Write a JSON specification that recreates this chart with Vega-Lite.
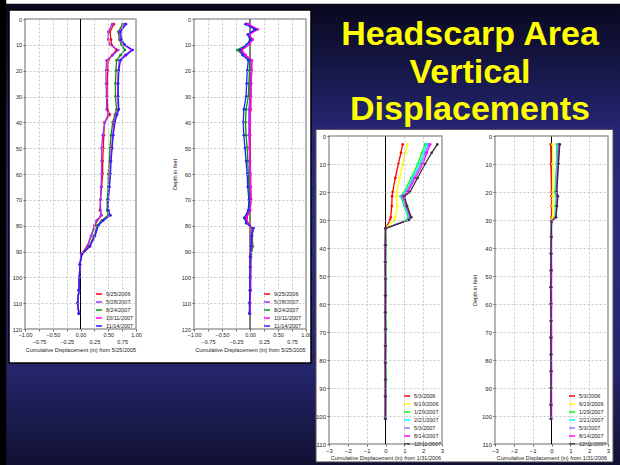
{
"$schema": "https://vega.github.io/schema/vega-lite/v6.json",
"width": 620, "height": 465,
"autosize": {"type": "none"},
"padding": 0,
"background": "#ffffff",
"title": {"text": ["Headscarp Area", "Vertical", " Displacements"], "orient": "top", "anchor": "middle", "frame": "group", "offset": 0, "dx": 160, "dy": 127, "baseline": "top", "font": "Liberation Sans", "fontSize": 34, "fontWeight": "bold", "color": "#ffff00", "lineHeight": 37.5},
"config": {"font": "Liberation Sans", "view": {"stroke": null},
  "axis": {"labelFont": "Liberation Sans", "labelFontSize": 5.5, "labelColor": "#222222", "titleFont": "Liberation Sans", "titleFontSize": 5.5, "titleFontWeight": "normal", "titleColor": "#222222", "tickSize": 2, "tickColor": "#666666", "domain": false, "gridDash": [2, 2], "gridWidth": 0.8, "labelFlush": false, "labelOverlap": false, "labelBound": false},
  "legend": {"labelFont": "Liberation Sans", "labelFontSize": 5.5, "labelColor": "#222222", "symbolType": "stroke", "symbolSize": 36, "symbolStrokeWidth": 1.5, "rowPadding": 0, "padding": 0, "labelOffset": 3, "labelLimit": 0}},
"datasets": {
"c1": [
{"s":"9/25/2006","d":2,"v":0.60},{"s":"9/25/2006","d":5,"v":0.53},{"s":"9/25/2006","d":8,"v":0.55},{"s":"9/25/2006","d":10,"v":0.56},{"s":"9/25/2006","d":12,"v":0.65},{"s":"9/25/2006","d":14,"v":0.57},{"s":"9/25/2006","d":16,"v":0.50},{"s":"9/25/2006","d":20,"v":0.49},{"s":"9/25/2006","d":25,"v":0.48},{"s":"9/25/2006","d":30,"v":0.48},{"s":"9/25/2006","d":35,"v":0.49},{"s":"9/25/2006","d":37,"v":0.53},{"s":"9/25/2006","d":40,"v":0.43},{"s":"9/25/2006","d":45,"v":0.42},{"s":"9/25/2006","d":50,"v":0.41},{"s":"9/25/2006","d":55,"v":0.40},{"s":"9/25/2006","d":60,"v":0.40},{"s":"9/25/2006","d":65,"v":0.38},{"s":"9/25/2006","d":70,"v":0.36},{"s":"9/25/2006","d":74,"v":0.35},{"s":"9/25/2006","d":76,"v":0.38},{"s":"9/25/2006","d":78,"v":0.30},{"s":"9/25/2006","d":80,"v":0.26},{"s":"9/25/2006","d":84,"v":0.19},{"s":"9/25/2006","d":88,"v":0.12},{"s":"9/25/2006","d":91,"v":0.01},{"s":"9/25/2006","d":95,"v":-0.01},{"s":"9/25/2006","d":100,"v":-0.02},{"s":"9/25/2006","d":105,"v":-0.03},{"s":"9/25/2006","d":110,"v":-0.05},{"s":"9/25/2006","d":114,"v":-0.03},
{"s":"5/28/2007","d":2,"v":0.57},{"s":"5/28/2007","d":5,"v":0.50},{"s":"5/28/2007","d":8,"v":0.50},{"s":"5/28/2007","d":10,"v":0.53},{"s":"5/28/2007","d":12,"v":0.68},{"s":"5/28/2007","d":14,"v":0.58},{"s":"5/28/2007","d":16,"v":0.47},{"s":"5/28/2007","d":20,"v":0.46},{"s":"5/28/2007","d":25,"v":0.46},{"s":"5/28/2007","d":30,"v":0.47},{"s":"5/28/2007","d":35,"v":0.47},{"s":"5/28/2007","d":37,"v":0.50},{"s":"5/28/2007","d":40,"v":0.44},{"s":"5/28/2007","d":45,"v":0.40},{"s":"5/28/2007","d":50,"v":0.38},{"s":"5/28/2007","d":55,"v":0.38},{"s":"5/28/2007","d":60,"v":0.38},{"s":"5/28/2007","d":65,"v":0.37},{"s":"5/28/2007","d":70,"v":0.36},{"s":"5/28/2007","d":74,"v":0.36},{"s":"5/28/2007","d":76,"v":0.37},{"s":"5/28/2007","d":78,"v":0.29},{"s":"5/28/2007","d":80,"v":0.25},{"s":"5/28/2007","d":84,"v":0.19},{"s":"5/28/2007","d":88,"v":0.13},{"s":"5/28/2007","d":91,"v":0.02},{"s":"5/28/2007","d":95,"v":-0.01},{"s":"5/28/2007","d":100,"v":-0.02},{"s":"5/28/2007","d":105,"v":-0.03},{"s":"5/28/2007","d":110,"v":-0.05},{"s":"5/28/2007","d":114,"v":-0.03},
{"s":"8/24/2007","d":2,"v":0.76},{"s":"8/24/2007","d":5,"v":0.68},{"s":"8/24/2007","d":8,"v":0.70},{"s":"8/24/2007","d":10,"v":0.74},{"s":"8/24/2007","d":12,"v":0.80},{"s":"8/24/2007","d":14,"v":0.72},{"s":"8/24/2007","d":16,"v":0.65},{"s":"8/24/2007","d":20,"v":0.64},{"s":"8/24/2007","d":25,"v":0.63},{"s":"8/24/2007","d":30,"v":0.63},{"s":"8/24/2007","d":35,"v":0.65},{"s":"8/24/2007","d":37,"v":0.62},{"s":"8/24/2007","d":40,"v":0.58},{"s":"8/24/2007","d":45,"v":0.55},{"s":"8/24/2007","d":50,"v":0.53},{"s":"8/24/2007","d":55,"v":0.52},{"s":"8/24/2007","d":60,"v":0.50},{"s":"8/24/2007","d":65,"v":0.50},{"s":"8/24/2007","d":70,"v":0.48},{"s":"8/24/2007","d":74,"v":0.48},{"s":"8/24/2007","d":76,"v":0.50},{"s":"8/24/2007","d":78,"v":0.38},{"s":"8/24/2007","d":80,"v":0.30},{"s":"8/24/2007","d":84,"v":0.24},{"s":"8/24/2007","d":88,"v":0.16},{"s":"8/24/2007","d":91,"v":0.02},{"s":"8/24/2007","d":95,"v":-0.01},{"s":"8/24/2007","d":100,"v":-0.02},{"s":"8/24/2007","d":105,"v":-0.03},{"s":"8/24/2007","d":110,"v":-0.05},{"s":"8/24/2007","d":114,"v":-0.03},
{"s":"10/11/2007","d":2,"v":0.80},{"s":"10/11/2007","d":5,"v":0.70},{"s":"10/11/2007","d":8,"v":0.72},{"s":"10/11/2007","d":10,"v":0.78},{"s":"10/11/2007","d":12,"v":0.92},{"s":"10/11/2007","d":14,"v":0.80},{"s":"10/11/2007","d":16,"v":0.70},{"s":"10/11/2007","d":20,"v":0.68},{"s":"10/11/2007","d":25,"v":0.67},{"s":"10/11/2007","d":30,"v":0.67},{"s":"10/11/2007","d":35,"v":0.68},{"s":"10/11/2007","d":37,"v":0.64},{"s":"10/11/2007","d":40,"v":0.60},{"s":"10/11/2007","d":45,"v":0.58},{"s":"10/11/2007","d":50,"v":0.56},{"s":"10/11/2007","d":55,"v":0.54},{"s":"10/11/2007","d":60,"v":0.53},{"s":"10/11/2007","d":65,"v":0.52},{"s":"10/11/2007","d":70,"v":0.50},{"s":"10/11/2007","d":74,"v":0.50},{"s":"10/11/2007","d":76,"v":0.53},{"s":"10/11/2007","d":78,"v":0.40},{"s":"10/11/2007","d":80,"v":0.32},{"s":"10/11/2007","d":84,"v":0.26},{"s":"10/11/2007","d":88,"v":0.17},{"s":"10/11/2007","d":91,"v":0.02},{"s":"10/11/2007","d":95,"v":-0.01},{"s":"10/11/2007","d":100,"v":-0.02},{"s":"10/11/2007","d":105,"v":-0.03},{"s":"10/11/2007","d":110,"v":-0.05},{"s":"10/11/2007","d":114,"v":-0.03},
{"s":"11/14/2007","d":2,"v":0.82},{"s":"11/14/2007","d":5,"v":0.72},{"s":"11/14/2007","d":8,"v":0.74},{"s":"11/14/2007","d":10,"v":0.80},{"s":"11/14/2007","d":12,"v":0.94},{"s":"11/14/2007","d":14,"v":0.82},{"s":"11/14/2007","d":16,"v":0.72},{"s":"11/14/2007","d":20,"v":0.69},{"s":"11/14/2007","d":25,"v":0.68},{"s":"11/14/2007","d":30,"v":0.68},{"s":"11/14/2007","d":35,"v":0.69},{"s":"11/14/2007","d":37,"v":0.66},{"s":"11/14/2007","d":40,"v":0.62},{"s":"11/14/2007","d":45,"v":0.59},{"s":"11/14/2007","d":50,"v":0.57},{"s":"11/14/2007","d":55,"v":0.55},{"s":"11/14/2007","d":60,"v":0.54},{"s":"11/14/2007","d":65,"v":0.52},{"s":"11/14/2007","d":70,"v":0.50},{"s":"11/14/2007","d":74,"v":0.50},{"s":"11/14/2007","d":76,"v":0.54},{"s":"11/14/2007","d":78,"v":0.41},{"s":"11/14/2007","d":80,"v":0.32},{"s":"11/14/2007","d":84,"v":0.26},{"s":"11/14/2007","d":88,"v":0.17},{"s":"11/14/2007","d":91,"v":0.03},{"s":"11/14/2007","d":95,"v":-0.01},{"s":"11/14/2007","d":100,"v":-0.02},{"s":"11/14/2007","d":105,"v":-0.03},{"s":"11/14/2007","d":110,"v":-0.05},{"s":"11/14/2007","d":114,"v":-0.03}
],
"c2": [
{"s":"9/25/2006","d":2,"v":-0.05},{"s":"9/25/2006","d":4,"v":0.10},{"s":"9/25/2006","d":6,"v":-0.02},{"s":"9/25/2006","d":8,"v":0.04},{"s":"9/25/2006","d":10,"v":-0.02},{"s":"9/25/2006","d":12,"v":-0.15},{"s":"9/25/2006","d":14,"v":-0.08},{"s":"9/25/2006","d":16,"v":0.03},{"s":"9/25/2006","d":20,"v":0.03},{"s":"9/25/2006","d":25,"v":0.02},{"s":"9/25/2006","d":30,"v":0.01},{"s":"9/25/2006","d":35,"v":0.01},{"s":"9/25/2006","d":40,"v":0.00},{"s":"9/25/2006","d":45,"v":0.00},{"s":"9/25/2006","d":50,"v":0.00},{"s":"9/25/2006","d":55,"v":0.00},{"s":"9/25/2006","d":60,"v":0.01},{"s":"9/25/2006","d":65,"v":0.01},{"s":"9/25/2006","d":70,"v":0.02},{"s":"9/25/2006","d":74,"v":0.00},{"s":"9/25/2006","d":77,"v":-0.06},{"s":"9/25/2006","d":79,"v":-0.04},{"s":"9/25/2006","d":81,"v":0.04},{"s":"9/25/2006","d":84,"v":0.02},{"s":"9/25/2006","d":88,"v":0.02},{"s":"9/25/2006","d":92,"v":0.01},{"s":"9/25/2006","d":96,"v":0.01},{"s":"9/25/2006","d":100,"v":0.01},{"s":"9/25/2006","d":105,"v":0.01},{"s":"9/25/2006","d":110,"v":0.00},{"s":"9/25/2006","d":114,"v":0.00},
{"s":"5/28/2007","d":2,"v":-0.06},{"s":"5/28/2007","d":4,"v":0.12},{"s":"5/28/2007","d":6,"v":-0.03},{"s":"5/28/2007","d":8,"v":0.03},{"s":"5/28/2007","d":10,"v":-0.03},{"s":"5/28/2007","d":12,"v":-0.17},{"s":"5/28/2007","d":14,"v":-0.09},{"s":"5/28/2007","d":16,"v":0.02},{"s":"5/28/2007","d":20,"v":0.02},{"s":"5/28/2007","d":25,"v":0.01},{"s":"5/28/2007","d":30,"v":0.00},{"s":"5/28/2007","d":35,"v":-0.02},{"s":"5/28/2007","d":40,"v":-0.02},{"s":"5/28/2007","d":45,"v":-0.02},{"s":"5/28/2007","d":50,"v":-0.01},{"s":"5/28/2007","d":55,"v":-0.01},{"s":"5/28/2007","d":60,"v":0.00},{"s":"5/28/2007","d":65,"v":0.00},{"s":"5/28/2007","d":70,"v":0.01},{"s":"5/28/2007","d":74,"v":-0.01},{"s":"5/28/2007","d":77,"v":-0.08},{"s":"5/28/2007","d":79,"v":-0.05},{"s":"5/28/2007","d":81,"v":0.05},{"s":"5/28/2007","d":84,"v":0.02},{"s":"5/28/2007","d":88,"v":0.02},{"s":"5/28/2007","d":92,"v":0.01},{"s":"5/28/2007","d":96,"v":0.01},{"s":"5/28/2007","d":100,"v":0.01},{"s":"5/28/2007","d":105,"v":0.00},{"s":"5/28/2007","d":110,"v":0.00},{"s":"5/28/2007","d":114,"v":-0.01},
{"s":"8/24/2007","d":2,"v":-0.04},{"s":"8/24/2007","d":4,"v":0.11},{"s":"8/24/2007","d":6,"v":-0.02},{"s":"8/24/2007","d":8,"v":0.02},{"s":"8/24/2007","d":10,"v":-0.05},{"s":"8/24/2007","d":12,"v":-0.23},{"s":"8/24/2007","d":14,"v":-0.12},{"s":"8/24/2007","d":16,"v":-0.01},{"s":"8/24/2007","d":20,"v":-0.01},{"s":"8/24/2007","d":25,"v":-0.02},{"s":"8/24/2007","d":30,"v":-0.03},{"s":"8/24/2007","d":35,"v":-0.07},{"s":"8/24/2007","d":40,"v":-0.08},{"s":"8/24/2007","d":45,"v":-0.07},{"s":"8/24/2007","d":50,"v":-0.05},{"s":"8/24/2007","d":55,"v":-0.04},{"s":"8/24/2007","d":60,"v":-0.03},{"s":"8/24/2007","d":65,"v":-0.02},{"s":"8/24/2007","d":70,"v":0.00},{"s":"8/24/2007","d":74,"v":-0.02},{"s":"8/24/2007","d":77,"v":-0.10},{"s":"8/24/2007","d":79,"v":-0.06},{"s":"8/24/2007","d":81,"v":0.06},{"s":"8/24/2007","d":84,"v":0.04},{"s":"8/24/2007","d":88,"v":0.05},{"s":"8/24/2007","d":92,"v":0.02},{"s":"8/24/2007","d":96,"v":0.01},{"s":"8/24/2007","d":100,"v":0.01},{"s":"8/24/2007","d":105,"v":0.00},{"s":"8/24/2007","d":110,"v":0.00},{"s":"8/24/2007","d":114,"v":-0.01},
{"s":"10/11/2007","d":2,"v":-0.03},{"s":"10/11/2007","d":4,"v":0.14},{"s":"10/11/2007","d":6,"v":-0.01},{"s":"10/11/2007","d":8,"v":0.05},{"s":"10/11/2007","d":10,"v":-0.02},{"s":"10/11/2007","d":12,"v":-0.16},{"s":"10/11/2007","d":14,"v":-0.08},{"s":"10/11/2007","d":16,"v":0.03},{"s":"10/11/2007","d":20,"v":0.03},{"s":"10/11/2007","d":25,"v":0.02},{"s":"10/11/2007","d":30,"v":0.02},{"s":"10/11/2007","d":35,"v":0.01},{"s":"10/11/2007","d":40,"v":0.00},{"s":"10/11/2007","d":45,"v":0.00},{"s":"10/11/2007","d":50,"v":-0.01},{"s":"10/11/2007","d":55,"v":0.00},{"s":"10/11/2007","d":60,"v":0.01},{"s":"10/11/2007","d":65,"v":0.01},{"s":"10/11/2007","d":70,"v":0.02},{"s":"10/11/2007","d":74,"v":0.00},{"s":"10/11/2007","d":77,"v":-0.07},{"s":"10/11/2007","d":79,"v":-0.05},{"s":"10/11/2007","d":81,"v":0.05},{"s":"10/11/2007","d":84,"v":0.03},{"s":"10/11/2007","d":88,"v":0.03},{"s":"10/11/2007","d":92,"v":0.01},{"s":"10/11/2007","d":96,"v":0.01},{"s":"10/11/2007","d":100,"v":0.01},{"s":"10/11/2007","d":105,"v":0.01},{"s":"10/11/2007","d":110,"v":0.00},{"s":"10/11/2007","d":114,"v":0.00},
{"s":"11/14/2007","d":2,"v":-0.08},{"s":"11/14/2007","d":4,"v":0.09},{"s":"11/14/2007","d":6,"v":-0.04},{"s":"11/14/2007","d":8,"v":0.00},{"s":"11/14/2007","d":10,"v":-0.06},{"s":"11/14/2007","d":12,"v":-0.18},{"s":"11/14/2007","d":14,"v":-0.13},{"s":"11/14/2007","d":16,"v":-0.03},{"s":"11/14/2007","d":20,"v":-0.05},{"s":"11/14/2007","d":25,"v":-0.06},{"s":"11/14/2007","d":30,"v":-0.07},{"s":"11/14/2007","d":35,"v":-0.11},{"s":"11/14/2007","d":40,"v":-0.12},{"s":"11/14/2007","d":45,"v":-0.11},{"s":"11/14/2007","d":50,"v":-0.09},{"s":"11/14/2007","d":55,"v":-0.07},{"s":"11/14/2007","d":60,"v":-0.05},{"s":"11/14/2007","d":65,"v":-0.04},{"s":"11/14/2007","d":70,"v":-0.02},{"s":"11/14/2007","d":74,"v":-0.03},{"s":"11/14/2007","d":77,"v":-0.10},{"s":"11/14/2007","d":79,"v":-0.07},{"s":"11/14/2007","d":81,"v":0.06},{"s":"11/14/2007","d":84,"v":0.03},{"s":"11/14/2007","d":88,"v":0.02},{"s":"11/14/2007","d":92,"v":0.00},{"s":"11/14/2007","d":96,"v":0.00},{"s":"11/14/2007","d":100,"v":0.00},{"s":"11/14/2007","d":105,"v":0.00},{"s":"11/14/2007","d":110,"v":-0.01},{"s":"11/14/2007","d":114,"v":-0.01}
],
"c3": [
{"s":"5/3/2006","d":3,"v":0.91},{"s":"5/3/2006","d":6,"v":0.82},{"s":"5/3/2006","d":10,"v":0.68},{"s":"5/3/2006","d":15,"v":0.52},{"s":"5/3/2006","d":20,"v":0.38},{"s":"5/3/2006","d":21.5,"v":0.35},{"s":"5/3/2006","d":25,"v":0.33},{"s":"5/3/2006","d":29,"v":0.28},{"s":"5/3/2006","d":30,"v":0.24},{"s":"5/3/2006","d":33,"v":0},{"s":"5/3/2006","d":39,"v":0},{"s":"5/3/2006","d":45,"v":-0.02},{"s":"5/3/2006","d":51,"v":0},{"s":"5/3/2006","d":57,"v":0.01},{"s":"5/3/2006","d":63,"v":-0.01},{"s":"5/3/2006","d":69,"v":0},{"s":"5/3/2006","d":75,"v":0.01},{"s":"5/3/2006","d":81,"v":-0.01},{"s":"5/3/2006","d":87,"v":0},{"s":"5/3/2006","d":93,"v":0.01},{"s":"5/3/2006","d":101,"v":0},
{"s":"6/19/2006","d":3,"v":1.16},{"s":"6/19/2006","d":6,"v":1.06},{"s":"6/19/2006","d":10,"v":0.91},{"s":"6/19/2006","d":15,"v":0.75},{"s":"6/19/2006","d":20,"v":0.59},{"s":"6/19/2006","d":21.5,"v":0.57},{"s":"6/19/2006","d":25,"v":0.62},{"s":"6/19/2006","d":29,"v":0.52},{"s":"6/19/2006","d":30,"v":0.48},{"s":"6/19/2006","d":33,"v":0},{"s":"6/19/2006","d":39,"v":0},{"s":"6/19/2006","d":45,"v":-0.02},{"s":"6/19/2006","d":51,"v":0},{"s":"6/19/2006","d":57,"v":0.01},{"s":"6/19/2006","d":63,"v":-0.01},{"s":"6/19/2006","d":69,"v":0},{"s":"6/19/2006","d":75,"v":0.01},{"s":"6/19/2006","d":81,"v":-0.01},{"s":"6/19/2006","d":87,"v":0},{"s":"6/19/2006","d":93,"v":0.01},{"s":"6/19/2006","d":101,"v":0},
{"s":"1/29/2007","d":3,"v":2.10},{"s":"1/29/2007","d":6,"v":1.93},{"s":"1/29/2007","d":10,"v":1.71},{"s":"1/29/2007","d":15,"v":1.36},{"s":"1/29/2007","d":20,"v":1.00},{"s":"1/29/2007","d":21.5,"v":0.80},{"s":"1/29/2007","d":25,"v":1.00},{"s":"1/29/2007","d":29,"v":1.20},{"s":"1/29/2007","d":30,"v":1.10},{"s":"1/29/2007","d":33,"v":0},{"s":"1/29/2007","d":39,"v":0.03},{"s":"1/29/2007","d":45,"v":0.02},{"s":"1/29/2007","d":51,"v":0.03},{"s":"1/29/2007","d":57,"v":0.02},{"s":"1/29/2007","d":63,"v":0.02},{"s":"1/29/2007","d":69,"v":0.03},{"s":"1/29/2007","d":75,"v":0.02},{"s":"1/29/2007","d":81,"v":0.02},{"s":"1/29/2007","d":87,"v":0.03},{"s":"1/29/2007","d":93,"v":0.02},{"s":"1/29/2007","d":101,"v":0.02},
{"s":"2/21/2007","d":3,"v":2.19},{"s":"2/21/2007","d":6,"v":2.02},{"s":"2/21/2007","d":10,"v":1.80},{"s":"2/21/2007","d":15,"v":1.43},{"s":"2/21/2007","d":20,"v":1.06},{"s":"2/21/2007","d":21.5,"v":0.84},{"s":"2/21/2007","d":25,"v":1.04},{"s":"2/21/2007","d":29,"v":1.25},{"s":"2/21/2007","d":30,"v":1.15},{"s":"2/21/2007","d":33,"v":0},{"s":"2/21/2007","d":39,"v":0},{"s":"2/21/2007","d":45,"v":-0.02},{"s":"2/21/2007","d":51,"v":0},{"s":"2/21/2007","d":57,"v":0.01},{"s":"2/21/2007","d":63,"v":-0.01},{"s":"2/21/2007","d":69,"v":0},{"s":"2/21/2007","d":75,"v":0.01},{"s":"2/21/2007","d":81,"v":-0.01},{"s":"2/21/2007","d":87,"v":0},{"s":"2/21/2007","d":93,"v":0.01},{"s":"2/21/2007","d":101,"v":0},
{"s":"5/3/2007","d":3,"v":2.28},{"s":"5/3/2007","d":6,"v":2.11},{"s":"5/3/2007","d":10,"v":1.89},{"s":"5/3/2007","d":15,"v":1.50},{"s":"5/3/2007","d":20,"v":1.12},{"s":"5/3/2007","d":21.5,"v":0.88},{"s":"5/3/2007","d":25,"v":1.08},{"s":"5/3/2007","d":29,"v":1.29},{"s":"5/3/2007","d":30,"v":1.19},{"s":"5/3/2007","d":33,"v":0},{"s":"5/3/2007","d":39,"v":0},{"s":"5/3/2007","d":45,"v":-0.02},{"s":"5/3/2007","d":51,"v":0},{"s":"5/3/2007","d":57,"v":0.01},{"s":"5/3/2007","d":63,"v":-0.01},{"s":"5/3/2007","d":69,"v":0},{"s":"5/3/2007","d":75,"v":0.01},{"s":"5/3/2007","d":81,"v":-0.01},{"s":"5/3/2007","d":87,"v":0},{"s":"5/3/2007","d":93,"v":0.01},{"s":"5/3/2007","d":101,"v":0},
{"s":"8/14/2007","d":3,"v":2.37},{"s":"8/14/2007","d":6,"v":2.20},{"s":"8/14/2007","d":10,"v":1.98},{"s":"8/14/2007","d":15,"v":1.58},{"s":"8/14/2007","d":20,"v":1.18},{"s":"8/14/2007","d":21.5,"v":0.92},{"s":"8/14/2007","d":25,"v":1.12},{"s":"8/14/2007","d":29,"v":1.33},{"s":"8/14/2007","d":30,"v":1.22},{"s":"8/14/2007","d":33,"v":0},{"s":"8/14/2007","d":39,"v":-0.03},{"s":"8/14/2007","d":45,"v":-0.03},{"s":"8/14/2007","d":51,"v":-0.02},{"s":"8/14/2007","d":57,"v":-0.03},{"s":"8/14/2007","d":63,"v":-0.03},{"s":"8/14/2007","d":69,"v":-0.02},{"s":"8/14/2007","d":75,"v":-0.03},{"s":"8/14/2007","d":81,"v":-0.03},{"s":"8/14/2007","d":87,"v":-0.02},{"s":"8/14/2007","d":93,"v":-0.03},{"s":"8/14/2007","d":101,"v":-0.03},
{"s":"12/11/2007","d":3,"v":2.75},{"s":"12/11/2007","d":6,"v":2.45},{"s":"12/11/2007","d":10,"v":2.10},{"s":"12/11/2007","d":15,"v":1.70},{"s":"12/11/2007","d":20,"v":1.30},{"s":"12/11/2007","d":21.5,"v":1.00},{"s":"12/11/2007","d":25,"v":1.15},{"s":"12/11/2007","d":29,"v":1.37},{"s":"12/11/2007","d":30,"v":1.25},{"s":"12/11/2007","d":33,"v":0},{"s":"12/11/2007","d":39,"v":0},{"s":"12/11/2007","d":45,"v":0},{"s":"12/11/2007","d":51,"v":0},{"s":"12/11/2007","d":57,"v":0},{"s":"12/11/2007","d":63,"v":0},{"s":"12/11/2007","d":69,"v":0},{"s":"12/11/2007","d":75,"v":0},{"s":"12/11/2007","d":81,"v":0},{"s":"12/11/2007","d":87,"v":0},{"s":"12/11/2007","d":93,"v":0},{"s":"12/11/2007","d":101,"v":0}
],
"c4": [
{"s":"5/3/2006","d":3,"v":-0.04},{"s":"5/3/2006","d":10,"v":-0.03},{"s":"5/3/2006","d":20,"v":0},{"s":"5/3/2006","d":21.5,"v":0},{"s":"5/3/2006","d":25,"v":0},{"s":"5/3/2006","d":29,"v":0},{"s":"5/3/2006","d":30.5,"v":0},{"s":"5/3/2006","d":36,"v":-0.02},{"s":"5/3/2006","d":42,"v":-0.03},{"s":"5/3/2006","d":48,"v":-0.03},{"s":"5/3/2006","d":54,"v":-0.04},{"s":"5/3/2006","d":60,"v":-0.04},{"s":"5/3/2006","d":66,"v":-0.03},{"s":"5/3/2006","d":72,"v":-0.04},{"s":"5/3/2006","d":78,"v":-0.03},{"s":"5/3/2006","d":84,"v":-0.03},{"s":"5/3/2006","d":90,"v":-0.03},{"s":"5/3/2006","d":96,"v":-0.04},{"s":"5/3/2006","d":101,"v":-0.03},
{"s":"6/19/2006","d":3,"v":0.05},{"s":"6/19/2006","d":10,"v":0.05},{"s":"6/19/2006","d":20,"v":0.06},{"s":"6/19/2006","d":21.5,"v":0.05},{"s":"6/19/2006","d":25,"v":0.05},{"s":"6/19/2006","d":29,"v":0.06},{"s":"6/19/2006","d":30.5,"v":0},{"s":"6/19/2006","d":36,"v":-0.02},{"s":"6/19/2006","d":42,"v":-0.03},{"s":"6/19/2006","d":48,"v":-0.03},{"s":"6/19/2006","d":54,"v":-0.04},{"s":"6/19/2006","d":60,"v":-0.04},{"s":"6/19/2006","d":66,"v":-0.03},{"s":"6/19/2006","d":72,"v":-0.04},{"s":"6/19/2006","d":78,"v":-0.03},{"s":"6/19/2006","d":84,"v":-0.03},{"s":"6/19/2006","d":90,"v":-0.03},{"s":"6/19/2006","d":96,"v":-0.04},{"s":"6/19/2006","d":101,"v":-0.03},
{"s":"1/29/2007","d":3,"v":0.27},{"s":"1/29/2007","d":10,"v":0.27},{"s":"1/29/2007","d":20,"v":0.18},{"s":"1/29/2007","d":21.5,"v":0.25},{"s":"1/29/2007","d":25,"v":0.21},{"s":"1/29/2007","d":29,"v":0.18},{"s":"1/29/2007","d":30.5,"v":0},{"s":"1/29/2007","d":36,"v":-0.02},{"s":"1/29/2007","d":42,"v":-0.03},{"s":"1/29/2007","d":48,"v":-0.03},{"s":"1/29/2007","d":54,"v":-0.04},{"s":"1/29/2007","d":60,"v":-0.04},{"s":"1/29/2007","d":66,"v":-0.03},{"s":"1/29/2007","d":72,"v":-0.04},{"s":"1/29/2007","d":78,"v":-0.03},{"s":"1/29/2007","d":84,"v":-0.03},{"s":"1/29/2007","d":90,"v":-0.03},{"s":"1/29/2007","d":96,"v":-0.04},{"s":"1/29/2007","d":101,"v":-0.03},
{"s":"2/21/2007","d":3,"v":0.32},{"s":"2/21/2007","d":10,"v":0.30},{"s":"2/21/2007","d":20,"v":0.22},{"s":"2/21/2007","d":21.5,"v":0.28},{"s":"2/21/2007","d":25,"v":0.24},{"s":"2/21/2007","d":29,"v":0.21},{"s":"2/21/2007","d":30.5,"v":0},{"s":"2/21/2007","d":36,"v":-0.02},{"s":"2/21/2007","d":42,"v":-0.03},{"s":"2/21/2007","d":48,"v":-0.03},{"s":"2/21/2007","d":54,"v":-0.04},{"s":"2/21/2007","d":60,"v":-0.04},{"s":"2/21/2007","d":66,"v":-0.03},{"s":"2/21/2007","d":72,"v":-0.04},{"s":"2/21/2007","d":78,"v":-0.03},{"s":"2/21/2007","d":84,"v":-0.03},{"s":"2/21/2007","d":90,"v":-0.03},{"s":"2/21/2007","d":96,"v":-0.04},{"s":"2/21/2007","d":101,"v":-0.03},
{"s":"5/3/2007","d":3,"v":0.35},{"s":"5/3/2007","d":10,"v":0.32},{"s":"5/3/2007","d":20,"v":0.24},{"s":"5/3/2007","d":21.5,"v":0.30},{"s":"5/3/2007","d":25,"v":0.26},{"s":"5/3/2007","d":29,"v":0.22},{"s":"5/3/2007","d":30.5,"v":0},{"s":"5/3/2007","d":36,"v":-0.02},{"s":"5/3/2007","d":42,"v":-0.03},{"s":"5/3/2007","d":48,"v":-0.03},{"s":"5/3/2007","d":54,"v":-0.04},{"s":"5/3/2007","d":60,"v":-0.04},{"s":"5/3/2007","d":66,"v":-0.03},{"s":"5/3/2007","d":72,"v":-0.04},{"s":"5/3/2007","d":78,"v":-0.03},{"s":"5/3/2007","d":84,"v":-0.03},{"s":"5/3/2007","d":90,"v":-0.03},{"s":"5/3/2007","d":96,"v":-0.04},{"s":"5/3/2007","d":101,"v":-0.03},
{"s":"8/14/2007","d":3,"v":0.41},{"s":"8/14/2007","d":10,"v":0.35},{"s":"8/14/2007","d":20,"v":0.27},{"s":"8/14/2007","d":21.5,"v":0.32},{"s":"8/14/2007","d":25,"v":0.28},{"s":"8/14/2007","d":29,"v":0.23},{"s":"8/14/2007","d":30.5,"v":0},{"s":"8/14/2007","d":36,"v":0.01},{"s":"8/14/2007","d":42,"v":0.0},{"s":"8/14/2007","d":48,"v":0.01},{"s":"8/14/2007","d":54,"v":0.0},{"s":"8/14/2007","d":60,"v":0.01},{"s":"8/14/2007","d":66,"v":0.0},{"s":"8/14/2007","d":72,"v":0.01},{"s":"8/14/2007","d":78,"v":0.0},{"s":"8/14/2007","d":84,"v":0.01},{"s":"8/14/2007","d":90,"v":0.0},{"s":"8/14/2007","d":96,"v":0.01},{"s":"8/14/2007","d":101,"v":0.0},
{"s":"12/11/2007","d":3,"v":0.44},{"s":"12/11/2007","d":10,"v":0.37},{"s":"12/11/2007","d":20,"v":0.28},{"s":"12/11/2007","d":21.5,"v":0.34},{"s":"12/11/2007","d":25,"v":0.29},{"s":"12/11/2007","d":29,"v":0.24},{"s":"12/11/2007","d":30.5,"v":0},{"s":"12/11/2007","d":36,"v":-0.02},{"s":"12/11/2007","d":42,"v":-0.03},{"s":"12/11/2007","d":48,"v":-0.03},{"s":"12/11/2007","d":54,"v":-0.04},{"s":"12/11/2007","d":60,"v":-0.04},{"s":"12/11/2007","d":66,"v":-0.03},{"s":"12/11/2007","d":72,"v":-0.04},{"s":"12/11/2007","d":78,"v":-0.03},{"s":"12/11/2007","d":84,"v":-0.03},{"s":"12/11/2007","d":90,"v":-0.03},{"s":"12/11/2007","d":96,"v":-0.04},{"s":"12/11/2007","d":101,"v":-0.03}
]
},
"layer": [
{"data": {"values": [{}]}, "mark": {"type": "rect", "fill": {"gradient": "linear", "x1": 0, "y1": 0, "x2": 0, "y2": 1, "stops": [{"offset": 0, "color": "#ffffff"}, {"offset": 0.007, "color": "#ffffff"}, {"offset": 0.009, "color": "#08081c"}, {"offset": 0.06, "color": "#0e0e2e"}, {"offset": 0.16, "color": "#18184c"}, {"offset": 0.28, "color": "#262674"}, {"offset": 0.5, "color": "#2a2a7c"}, {"offset": 0.8, "color": "#24246a"}, {"offset": 0.9, "color": "#1b1b4e"}, {"offset": 1, "color": "#101032"}]}}, "encoding": {}},
{"data": {"values": [{}]}, "mark": {"type": "rect", "fill": {"gradient": "linear", "x1": 0, "y1": 0, "x2": 1, "y2": 0, "stops": [{"offset": 0, "color": "rgba(0,0,0,1)"}, {"offset": 0.009, "color": "rgba(0,0,0,1)"}, {"offset": 0.011, "color": "rgba(0,0,0,0)"}, {"offset": 1, "color": "rgba(0,0,0,0)"}]}}, "encoding": {}},
{"layer": [
  {"data": {"values": [{}]}, "mark": {"type": "rect", "fill": "#ffffff", "stroke": "#000000", "strokeWidth": 1.5}, "encoding": {"x": {"datum": -1.288, "type": "quantitative", "axis": null}, "x2": {"datum": 4.153}, "y": {"datum": -3.48, "type": "quantitative", "axis": null}, "y2": {"datum": 133.2}}},
  {"data": {"values": [{}]}, "mark": {"type": "rect", "filled": false, "stroke": "#9a9a9a", "strokeWidth": 1.5}, "encoding": {"x": {"datum": -1, "type": "quantitative", "axis": {"orient": "top", "offset": 0, "values": [-1, -0.75, -0.5, -0.25, 0, 0.25, 0.5, 0.75, 1], "labels": false, "ticks": false, "grid": true, "gridColor": {"condition": {"test": "datum.value === 0", "value": "transparent"}, "value": "#b8b8b8"}, "title": null, "zindex": 1}}, "x2": {"datum": 1}, "y": {"datum": 0, "type": "quantitative", "axis": null}, "y2": {"datum": 120}}},
  {"data": {"values": [{}]}, "mark": {"type": "rule", "color": "#000000", "strokeWidth": 1}, "encoding": {"x": {"datum": 0, "type": "quantitative", "axis": null}, "y": {"datum": 0, "type": "quantitative", "axis": null}, "y2": {"datum": 120}}},
  {"data": {"name": "c1"}, "mark": {"type": "line", "strokeWidth": 1.3, "point": {"filled": true, "size": 7}},
   "encoding": {
    "x": {"field": "v", "type": "quantitative", "scale": {"domain": [-1, 1], "range": [25, 136], "nice": false, "zero": false},
      "axis": {"orient": "bottom", "offset": -136, "values": [-1, -0.75, -0.5, -0.25, 0, 0.25, 0.5, 0.75, 1], "format": ".2f", "labelExpr": "(datum.value * 4) % 2 != 0 ? ['', datum.label] : datum.label", "labelLineHeight": 7, "labelPadding": 1, "labelOverlap": false, "grid": false, "title": "Cumulative Displacement (in) from 5/25/2005", "titlePadding": 3, "zindex": 1}},
    "y": {"field": "d", "type": "quantitative", "scale": {"domain": [0, 120], "range": [19, 329], "nice": false, "zero": false},
      "axis": {"orient": "left", "offset": -25, "values": [0, 10, 20, 30, 40, 50, 60, 70, 80, 90, 100, 110, 120], "labelPadding": 1.5, "labelOverlap": false, "grid": true, "gridColor": "#b8b8b8", "title": null, "zindex": 1}},
    "color": {"field": "s", "type": "nominal", "scale": {"domain": ["9/25/2006", "5/28/2007", "8/24/2007", "10/11/2007", "11/14/2007"], "range": ["#ff0000", "#9933ff", "#009900", "#ff00ff", "#2222ff"]},
      "legend": {"orient": "none", "legendX": 95, "legendY": 290, "title": null}},
    "order": {"field": "d", "type": "quantitative"}
   }}
], "resolve": {"axis": {"x": "independent", "y": "independent"}}},
{"layer": [
  {"data": {"values": [{}]}, "mark": {"type": "rect", "filled": false, "stroke": "#9a9a9a", "strokeWidth": 1.5}, "encoding": {"x": {"datum": -1, "type": "quantitative", "axis": {"orient": "top", "offset": 0, "values": [-1, -0.75, -0.5, -0.25, 0, 0.25, 0.5, 0.75, 1], "labels": false, "ticks": false, "grid": true, "gridColor": {"condition": {"test": "datum.value === 0", "value": "transparent"}, "value": "#b8b8b8"}, "title": null, "zindex": 1}}, "x2": {"datum": 1}, "y": {"datum": 0, "type": "quantitative", "axis": null}, "y2": {"datum": 120}}},
  {"data": {"values": [{}]}, "mark": {"type": "rule", "color": "#000000", "strokeWidth": 1}, "encoding": {"x": {"datum": 0, "type": "quantitative", "axis": null}, "y": {"datum": 0, "type": "quantitative", "axis": null}, "y2": {"datum": 120}}},
  {"data": {"name": "c2"}, "mark": {"type": "line", "strokeWidth": 1.3, "point": {"filled": true, "size": 7}},
   "encoding": {
    "x": {"field": "v", "type": "quantitative", "scale": {"domain": [-1, 1], "range": [194, 306], "nice": false, "zero": false},
      "axis": {"orient": "bottom", "offset": -136, "values": [-1, -0.75, -0.5, -0.25, 0, 0.25, 0.5, 0.75, 1], "format": ".2f", "labelExpr": "(datum.value * 4) % 2 != 0 ? ['', datum.label] : datum.label", "labelLineHeight": 7, "labelPadding": 1, "labelOverlap": false, "grid": false, "title": "Cumulative Displacement (in) from 5/25/2005", "titlePadding": 3, "zindex": 1}},
    "y": {"field": "d", "type": "quantitative", "scale": {"domain": [0, 120], "range": [19, 329], "nice": false, "zero": false},
      "axis": {"orient": "left", "offset": -194, "values": [0, 10, 20, 30, 40, 50, 60, 70, 80, 90, 100, 110, 120], "labelPadding": 1.5, "labelOverlap": false, "grid": true, "gridColor": "#b8b8b8", "title": "Depth in feet", "titlePadding": 4, "zindex": 1}},
    "color": {"field": "s", "type": "nominal", "scale": {"domain": ["9/25/2006", "5/28/2007", "8/24/2007", "10/11/2007", "11/14/2007"], "range": ["#ff0000", "#9933ff", "#009900", "#ff00ff", "#2222ff"]},
      "legend": {"orient": "none", "legendX": 263, "legendY": 290, "title": null}},
    "order": {"field": "d", "type": "quantitative"}
   }}
], "resolve": {"axis": {"x": "independent", "y": "independent"}}},
{"layer": [
  {"data": {"values": [{}]}, "mark": {"type": "rect", "fill": "#ffffff", "stroke": "#555555", "strokeWidth": 1}, "encoding": {"x": {"datum": -3.69, "type": "quantitative", "axis": null}, "x2": {"datum": 12.08}, "y": {"datum": -2.32, "type": "quantitative", "axis": null}, "y2": {"datum": 116.4}}},
  {"data": {"values": [{}]}, "mark": {"type": "rect", "filled": false, "stroke": "#9a9a9a", "strokeWidth": 1.5}, "encoding": {"x": {"datum": -3, "type": "quantitative", "axis": {"orient": "top", "offset": 0, "values": [-3, -2, -1, 0, 1, 2, 3], "labels": false, "ticks": false, "grid": true, "gridColor": {"condition": {"test": "datum.value === 0", "value": "transparent"}, "value": "#b8b8b8"}, "title": null, "zindex": 1}}, "x2": {"datum": 3}, "y": {"datum": 0, "type": "quantitative", "axis": null}, "y2": {"datum": 110}}},
  {"data": {"values": [{}]}, "mark": {"type": "rule", "color": "#000000", "strokeWidth": 1}, "encoding": {"x": {"datum": 0, "type": "quantitative", "axis": null}, "y": {"datum": 0, "type": "quantitative", "axis": null}, "y2": {"datum": 110}}},
  {"data": {"name": "c3"}, "mark": {"type": "line", "strokeWidth": 1.3, "point": {"filled": true, "size": 7}},
   "encoding": {
    "x": {"field": "v", "type": "quantitative", "scale": {"domain": [-3, 3], "range": [329, 442], "nice": false, "zero": false},
      "axis": {"orient": "bottom", "offset": -21, "values": [-3, -2, -1, 0, 1, 2, 3], "format": "d", "labelPadding": 1.5, "labelFontSize": 6, "labelOverlap": false, "grid": false, "title": "Cumulative Displacement (in) from 1/31/2006", "titlePadding": 2, "zindex": 1}},
    "y": {"field": "d", "type": "quantitative", "scale": {"domain": [0, 110], "range": [136, 444], "nice": false, "zero": false},
      "axis": {"orient": "left", "offset": -329, "values": [0, 10, 20, 30, 40, 50, 60, 70, 80, 90, 100, 110], "labelPadding": 1.5, "labelFontSize": 6, "labelOverlap": false, "grid": true, "gridColor": "#b8b8b8", "title": null, "zindex": 1}},
    "color": {"field": "s", "type": "nominal", "scale": {"domain": ["5/3/2006", "6/19/2006", "1/29/2007", "2/21/2007", "5/3/2007", "8/14/2007", "12/11/2007"], "range": ["#ff0000", "#ffff00", "#00ff00", "#00ffff", "#8080ff", "#ff00ff", "#333333"]},
      "legend": {"orient": "none", "legendX": 403, "legendY": 392, "title": null}},
    "order": {"field": "d", "type": "quantitative"}
   }}
], "resolve": {"axis": {"x": "independent", "y": "independent"}}},
{"layer": [
  {"data": {"values": [{}]}, "mark": {"type": "rect", "filled": false, "stroke": "#9a9a9a", "strokeWidth": 1.5}, "encoding": {"x": {"datum": -3, "type": "quantitative", "axis": {"orient": "top", "offset": 0, "values": [-3, -2, -1, 0, 1, 2, 3], "labels": false, "ticks": false, "grid": true, "gridColor": {"condition": {"test": "datum.value === 0", "value": "transparent"}, "value": "#b8b8b8"}, "title": null, "zindex": 1}}, "x2": {"datum": 3}, "y": {"datum": 0, "type": "quantitative", "axis": null}, "y2": {"datum": 110}}},
  {"data": {"values": [{}]}, "mark": {"type": "rule", "color": "#000000", "strokeWidth": 1}, "encoding": {"x": {"datum": 0, "type": "quantitative", "axis": null}, "y": {"datum": 0, "type": "quantitative", "axis": null}, "y2": {"datum": 110}}},
  {"data": {"name": "c4"}, "mark": {"type": "line", "strokeWidth": 1.3, "point": {"filled": true, "size": 7}},
   "encoding": {
    "x": {"field": "v", "type": "quantitative", "scale": {"domain": [-3, 3], "range": [495, 608], "nice": false, "zero": false},
      "axis": {"orient": "bottom", "offset": -21, "values": [-3, -2, -1, 0, 1, 2, 3], "format": "d", "labelPadding": 1.5, "labelFontSize": 6, "labelOverlap": false, "grid": false, "title": "Cumulative Displacement (in) from 1/31/2006", "titlePadding": 2, "zindex": 1}},
    "y": {"field": "d", "type": "quantitative", "scale": {"domain": [0, 110], "range": [136, 444], "nice": false, "zero": false},
      "axis": {"orient": "left", "offset": -495, "values": [0, 10, 20, 30, 40, 50, 60, 70, 80, 90, 100, 110], "labelPadding": 1.5, "labelFontSize": 6, "labelOverlap": false, "grid": true, "gridColor": "#b8b8b8", "title": "Depth in feet", "titlePadding": 4, "zindex": 1}},
    "color": {"field": "s", "type": "nominal", "scale": {"domain": ["5/3/2006", "6/19/2006", "1/29/2007", "2/21/2007", "5/3/2007", "8/14/2007", "12/11/2007"], "range": ["#ff0000", "#ffff00", "#00ff00", "#00ffff", "#8080ff", "#ff00ff", "#333333"]},
      "legend": {"orient": "none", "legendX": 568, "legendY": 392, "title": null}},
    "order": {"field": "d", "type": "quantitative"}
   }}
], "resolve": {"axis": {"x": "independent", "y": "independent"}}}
],
"resolve": {"scale": {"x": "independent", "y": "independent", "color": "independent"}, "axis": {"x": "independent", "y": "independent"}, "legend": {"color": "independent"}}
}
